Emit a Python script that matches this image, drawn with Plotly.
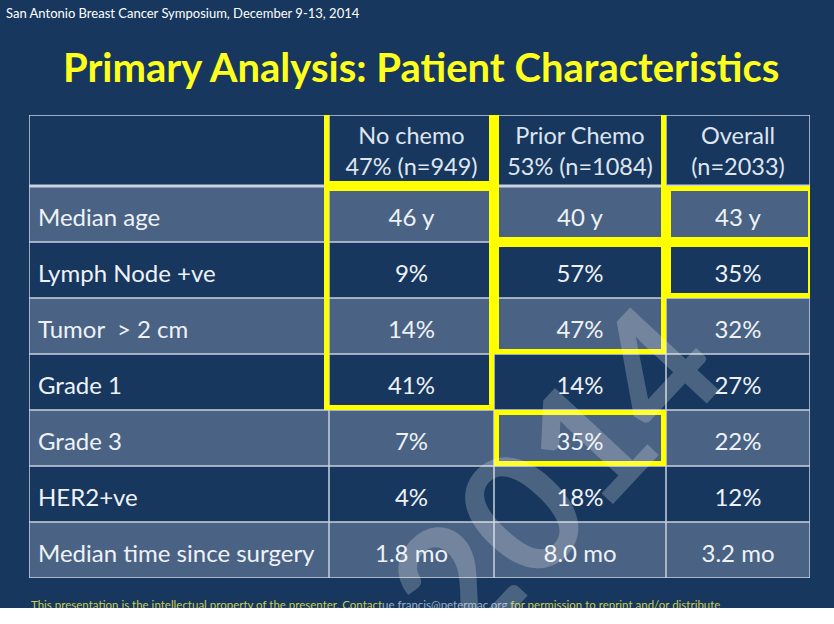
import plotly.graph_objects as go

# ---------------- data ----------------
row_labels = ["Median age", "Lymph Node +ve", "Tumor  > 2 cm", "Grade 1",
              "Grade 3", "HER2+ve", "Median time since surgery"]
col_headers = ["", "No chemo<br>47% (n=949)", "Prior Chemo<br>53% (n=1084)", "Overall<br>(n=2033)"]
no_chemo = ["46 y", "9%", "14%", "41%", "7%", "4%", "1.8 mo"]
prior_chemo = ["40 y", "57%", "47%", "14%", "35%", "18%", "8.0 mo"]
overall = ["43 y", "35%", "32%", "27%", "22%", "12%", "3.2 mo"]
# highlighted groups: (column index, first row, last row); row -1 = header
highlights = [(1, -1, -1), (1, 0, 3), (2, -1, 0), (2, 1, 2), (2, 4, 4), (3, 0, 0), (3, 1, 1)]

title = "Primary Analysis: Patient Characteristics"
meeting = "San Antonio Breast Cancer Symposium, December 9-13, 2014"
footer_a = "This presentation is the intellectual property of the presenter. Contact"
footer_b = "ue francis@petermac.org"
footer_c = "for permission to reprint and/or distribute"
watermark = "2014"

# ---------------- style ----------------
W, H = 834, 624
BG = "#17375e"
LIGHT = "#4a6283"
GRID = "#c9d2de"
TXT = "#eef2f7"
YEL = "#ffff00"
FONT = "Lato"
col_widths = [300, 165, 172, 144]
ROW_PX = 56.0
hdr_h = 71 / ROW_PX
n_rows = len(row_labels)
edges = [0]
for w in col_widths:
    edges.append(edges[-1] + w)
total_w = edges[-1]
y_max = hdr_h + n_rows
text_dy = 6 / ROW_PX      # slide text sits a little below the row middle
hdr_dy = 3 / ROW_PX

def row_top(r):
    return 0 if r < 0 else hdr_h + r

def row_bot(r):
    return hdr_h if r < 0 else hdr_h + r + 1

fig = go.Figure()

# cell text
cols = [no_chemo, prior_chemo, overall]
row_y = [hdr_h + i + 0.5 + text_dy for i in range(n_rows)]
fig.add_trace(go.Scatter(
    x=[edges[0] + 9] * n_rows, y=row_y,
    text=row_labels, mode="text", textposition="middle right",
    textfont=dict(family=FONT, size=24, color=TXT), hoverinfo="skip",
    showlegend=False, xaxis="x", yaxis="y"))
for c, vals in enumerate(cols, start=1):
    xc = (edges[c] + edges[c + 1]) / 2
    fig.add_trace(go.Scatter(
        x=[xc] * n_rows, y=row_y,
        text=vals, mode="text", textposition="middle center",
        textfont=dict(family=FONT, size=24, color=TXT), hoverinfo="skip",
        showlegend=False, xaxis="x", yaxis="y"))
fig.add_trace(go.Scatter(
    x=[(edges[c] + edges[c + 1]) / 2 for c in range(1, 4)],
    y=[hdr_h / 2 + hdr_dy] * 3, text=col_headers[1:], mode="text",
    textposition="middle center",
    textfont=dict(family=FONT, size=23.5, color="#dfe5ee"), hoverinfo="skip",
    showlegend=False, xaxis="x", yaxis="y"))

# footer (clipped by white band)
footer = (footer_a + "<span style='color:#9fb0c8'>" + footer_b + "</span> " + footer_c)
fig.add_trace(go.Scatter(
    x=[31], y=[606], text=[footer],
    mode="text", textposition="middle right",
    textfont=dict(family=FONT, size=11.5, color="#c8cc55"),
    hoverinfo="skip", showlegend=False, xaxis="x2", yaxis="y2", cliponaxis=False))

shapes = []
# slide background
shapes.append(dict(type="rect", xref="paper", yref="paper", x0=0, x1=1,
                   y0=1 - 608 / H, y1=1, fillcolor=BG, line_width=0, layer="below"))
# table fills
shapes.append(dict(type="rect", xref="x", yref="y", x0=0, x1=total_w, y0=0, y1=y_max,
                   fillcolor=BG, line_width=0, layer="below"))
for i in range(0, n_rows, 2):
    shapes.append(dict(type="rect", xref="x", yref="y", x0=0, x1=total_w,
                       y0=row_top(i), y1=row_bot(i), fillcolor=LIGHT,
                       line_width=0, layer="below"))
# grid lines
for e in edges:
    shapes.append(dict(type="line", xref="x", yref="y", x0=e, x1=e, y0=0, y1=y_max,
                       line=dict(color=GRID, width=1.5), layer="below"))
shapes.append(dict(type="line", xref="x", yref="y", x0=0, x1=total_w, y0=0, y1=0,
                   line=dict(color=GRID, width=1.5), layer="below"))
shapes.append(dict(type="line", xref="x", yref="y", x0=0, x1=total_w, y0=hdr_h, y1=hdr_h,
                   line=dict(color=GRID, width=3), layer="below"))
for i in range(n_rows):
    shapes.append(dict(type="line", xref="x", yref="y", x0=0, x1=total_w,
                       y0=row_bot(i), y1=row_bot(i),
                       line=dict(color=GRID, width=1.5), layer="below"))
# yellow highlight boxes
py = 2.5 / ROW_PX
for (c, r0, r1) in highlights:
    top = row_top(r0) + (-6.5 / ROW_PX if r0 < 0 else py)
    shapes.append(dict(type="rect", xref="x", yref="y",
                       x0=edges[c] + 2.5 - (5 if c == 1 else 0),
                       x1=edges[c + 1] - 2.5 + (3 if c == 3 else 0),
                       y0=top, y1=row_bot(r1) - py,
                       line=dict(color=YEL, width=5), fillcolor="rgba(0,0,0,0)",
                       layer="above"))
# white band at bottom
shapes.append(dict(type="rect", xref="paper", yref="paper", x0=0, x1=1, y0=0,
                   y1=1 - 608 / H, fillcolor="white", line_width=0, layer="above"))

annotations = [
    dict(text=meeting, xref="x2", yref="y2", x=4, y=13, xanchor="left", yanchor="middle",
         showarrow=False, font=dict(family=FONT, size=13, color="white")),
    dict(text="<b>" + title + "</b>", xref="x2", yref="y2", x=421, y=67,
         xanchor="center", yanchor="middle", showarrow=False,
         font=dict(family=FONT, size=40, color="#ffff1e")),
    dict(text="<b>" + watermark + "</b>", xref="x2", yref="y2", x=552, y=474,
         xanchor="center", yanchor="middle", showarrow=False, textangle=-47,
         opacity=0.22, font=dict(family=FONT, size=168, color="white")),
]

fig.update_layout(
    width=W, height=H, margin=dict(l=0, r=0, t=0, b=0),
    paper_bgcolor="white", plot_bgcolor="rgba(0,0,0,0)",
    shapes=shapes, annotations=annotations, showlegend=False,
    xaxis=dict(domain=[29 / W, 810 / W], range=[0, total_w], visible=False, fixedrange=True),
    yaxis=dict(domain=[1 - 578 / H, 1 - 115 / H], range=[y_max, 0], visible=False, fixedrange=True),
    xaxis2=dict(domain=[0, 1], range=[0, W], visible=False, anchor="y2", fixedrange=True),
    yaxis2=dict(domain=[0, 1], range=[H, 0], visible=False, anchor="x2", fixedrange=True),
)
fig.write_html("out.html", config={"displayModeBar": False},
               post_script="document.body.style.margin='0px';document.body.style.overflow='hidden';")
